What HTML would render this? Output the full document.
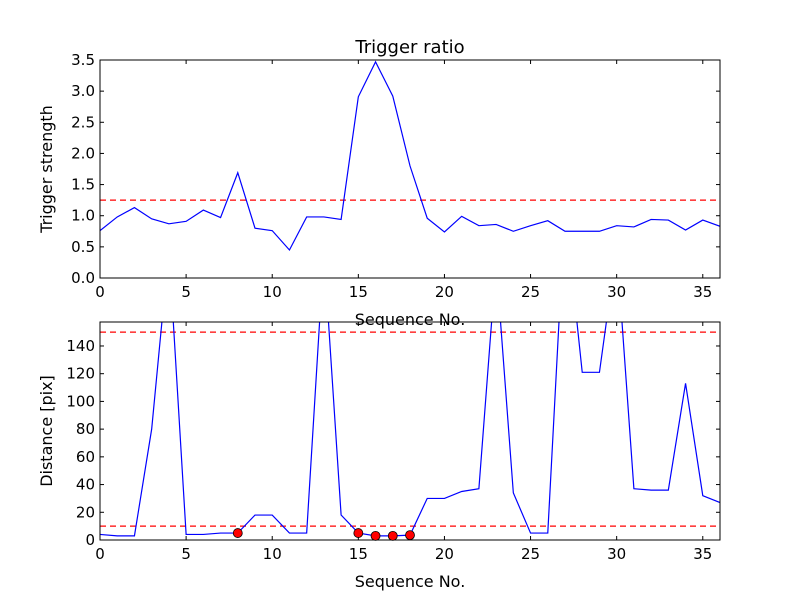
<!DOCTYPE html>
<html><head><meta charset="utf-8"><style>body{margin:0;background:#fff}svg{display:block;font-family:"DejaVu Sans","Liberation Sans",sans-serif}</style></head>
<body>
<svg id="c" width="800" height="600">
<rect width="800" height="600" fill="#fff"/>
<defs><clipPath id="cp1"><rect x="100" y="60" width="620" height="218"/></clipPath><clipPath id="cp2"><rect x="100" y="322" width="620" height="218"/></clipPath></defs>
</svg>
<script>
const seq=[0,1,2,3,4,5,6,7,8,9,10,11,12,13,14,15,16,17,18,19,20,21,22,23,24,25,26,27,28,29,30,31,32,33,34,35,36];
const strength=[0.76,0.98,1.13,0.95,0.87,0.91,1.09,0.97,1.69,0.80,0.76,0.45,0.98,0.98,0.94,2.91,3.47,2.92,1.80,0.96,0.74,0.99,0.84,0.86,0.75,0.84,0.92,0.75,0.75,0.75,0.84,0.82,0.94,0.93,0.77,0.93,0.83];
const distance=[4,3,3,80,210,4,4,5,5,18,18,5,5,208,18,5,3,3,3.5,30,30,35,37,200,34,5,5,239,121,121,211,37,36,36,113,32,27];
const triggerIdx=[8,15,16,17,18];
const topThreshold=1.25;
const distThresholds=[10,150];
const topYTicks=[0,0.5,1.0,1.5,2.0,2.5,3.0,3.5];
const botYTicks=[0,20,40,60,80,100,120,140];
const xTicks=[0,5,10,15,20,25,30,35];
const svg=document.getElementById('c');const NS='http://www.w3.org/2000/svg';
function mk(t,a,p){const e=document.createElementNS(NS,t);for(const k in a)e.setAttribute(k,a[k]);(p||svg).appendChild(e);return e;}
const X0=100,X1=720;const sx=v=>X0+v/36*(X1-X0);
function panel(top,ymax,ticks,vals,thr,clip,ylabel,xlabel,name,dec){
  const bot=top+218;const sy=v=>bot-v/ymax*218;
  const g=mk('g',{});
  thr.forEach(t=>{const l=mk('line',{x1:X0,x2:X1,y1:sy(t),y2:sy(t),stroke:'#f00','stroke-width':1.2,'stroke-dasharray':'6,4'},g);});
  const p=mk('polyline',{points:vals.map((v,i)=>sx(seq[i])+','+sy(v)).join(' '),fill:'none',stroke:'#00f','stroke-width':1.2,'clip-path':'url(#'+clip+')'},g);
  
  mk('rect',{x:X0,y:top,width:X1-X0,height:218,fill:'none',stroke:'#000','stroke-width':1},g);
  ticks.forEach(t=>{const y=sy(t);mk('line',{x1:X0,x2:X0+4,y1:y,y2:y,stroke:'#000'},g);mk('line',{x1:X1,x2:X1-4,y1:y,y2:y,stroke:'#000'},g);
    const tx=mk('text',{x:X0-5,y:y+5,'text-anchor':'end','font-size':15},g);tx.textContent=dec?t.toFixed(1):t;});
  xTicks.forEach(t=>{const x=sx(t);mk('line',{x1:x,x2:x,y1:bot,y2:bot-4,stroke:'#000'},g);mk('line',{x1:x,x2:x,y1:top,y2:top+4,stroke:'#000'},g);
    const tx=mk('text',{x:x,y:bot+19,'text-anchor':'middle','font-size':15},g);tx.textContent=t;});
  const yl=mk('text',{x:0,y:0,transform:'translate(52,'+(top+109)+') rotate(-90)','text-anchor':'middle','font-size':16},g);yl.textContent=ylabel;
  const xl=mk('text',{x:410,y:bot+47,'text-anchor':'middle','font-size':16},g);xl.textContent=xlabel;
  return sy;
}
const sy2=panel(322,157.3,botYTicks,distance,distThresholds,'cp2','Distance [pix]','Sequence No.','distance',false);
panel(60,3.5,topYTicks,strength,[topThreshold],'cp1','Trigger strength','Sequence No.','strength',true);
triggerIdx.forEach(i=>{const c=mk('circle',{cx:sx(seq[i]),cy:sy2(distance[i]),r:4.5,fill:'#f00',stroke:'#000','stroke-width':0.8});});
const t=mk('text',{x:410,y:53,'text-anchor':'middle','font-size':18});t.textContent='Trigger ratio';
</script>
</body></html>
